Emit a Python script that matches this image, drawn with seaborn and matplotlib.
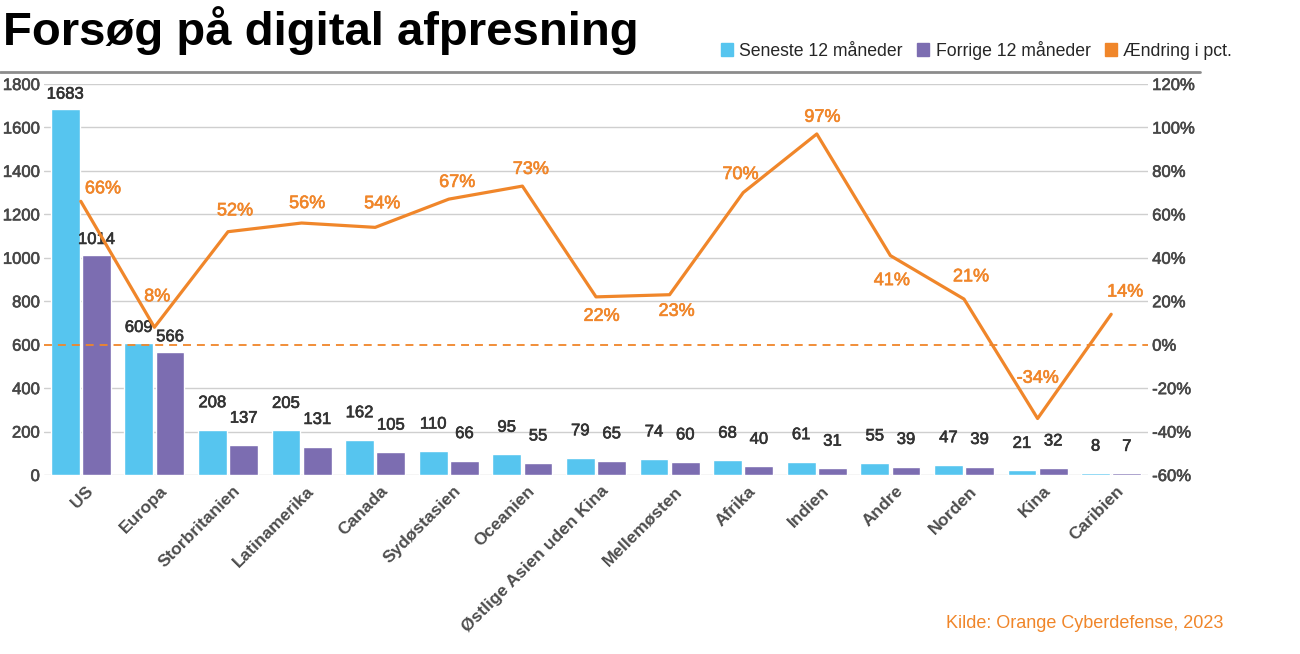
import numpy as np
import pandas as pd
import matplotlib
matplotlib.use('Agg')
import matplotlib.pyplot as plt
import matplotlib.transforms as mtransforms
import matplotlib.patheffects as pe
from matplotlib.lines import Line2D
from matplotlib.patches import Patch
import seaborn as sns

regions = ['US', 'Europa', 'Storbritanien', 'Latinamerika', 'Canada', 'Sydøstasien',
           'Oceanien', 'Østlige Asien uden Kina', 'Mellemøsten', 'Afrika', 'Indien',
           'Andre', 'Norden', 'Kina', 'Caribien']
latest = [1683, 609, 208, 205, 162, 110, 95, 79, 74, 68, 61, 55, 47, 21, 8]
previous = [1014, 566, 137, 131, 105, 66, 55, 65, 60, 40, 31, 39, 39, 32, 7]
change = [66, 8, 52, 56, 54, 67, 73, 22, 23, 70, 97, 41, 21, -34, 14]

series_names = ['Seneste 12 måneder', 'Forrige 12 måneder', 'Ændring i pct.']
left_ticks = list(range(0, 1801, 200))
right_ticks = list(range(-60, 121, 20))

# label offsets for the percentage labels (points)
pct_offsets = [(16, 9), (2, 22), (5, 15), (4, 14), (5, 17), (6, 12), (6, 12), (4, -14),
               (5, -12), (-2, 13), (4, 12), (1, -18), (5, 16), (0, 29), (10, 16)]

blue = '#56C5EF'
purple = '#7C6DB1'
orange = '#F0862A'
grey_txt = '#474747'


def medium(color):
    # thicken regular glyphs a little, close to a medium weight
    return [pe.withStroke(linewidth=0.45, foreground=color)]


sns.set_theme(style='white')
plt.rcParams['font.family'] = ['Liberation Sans', 'DejaVu Sans']

df = pd.DataFrame({
    'region': regions * 2,
    'value': latest + previous,
    'period': [series_names[0]] * len(regions) + [series_names[1]] * len(regions),
})

fig = plt.figure(figsize=(13, 6.54), dpi=100)
ax = fig.add_axes([44 / 1300, 1 - 475 / 654, 1104 / 1300, 391 / 654])

sns.barplot(data=df, x='region', y='value', hue='period', ax=ax,
            palette={series_names[0]: blue, series_names[1]: purple},
            width=0.85, gap=0.08, legend=False, saturation=1)

ax.set_ylim(0, 1800)
ax.set_yticks(left_ticks)
ax.set_xlabel('')
ax.set_ylabel('')
ax.yaxis.grid(True, color='#cfcfcf', lw=1)
ax.set_axisbelow(True)
ax.get_ygridlines()[3].set_visible(False)
for s in ax.spines.values():
    s.set_visible(False)
ax.tick_params(axis='y', length=0, pad=3, labelsize=12, labelcolor=grey_txt)
ax.tick_params(axis='x', length=0, pad=6)
for lab in ax.get_yticklabels():
    lab.set_path_effects(medium(grey_txt))
ax.set_xticks(range(len(regions)))
ax.set_xticklabels(regions, rotation=45, ha='right', va='top', rotation_mode='anchor',
                   fontsize=12.5, fontweight='bold', color='#4d4d4d')
shift = mtransforms.ScaledTranslation(5 / 100, 0, fig.dpi_scale_trans)
for lab in ax.get_xticklabels():
    lab.set_transform(lab.get_transform() + shift)

# value labels above bars
for cont in ax.containers:
    for bar in cont:
        h = bar.get_height()
        dy = 11 if h > 500 else 19.5
        ax.annotate(f'{h:.0f}', (bar.get_x() + bar.get_width() / 2, h),
                    xytext=(0, dy), textcoords='offset points',
                    ha='center', va='center', fontsize=12, color='#333333',
                    path_effects=medium('#333333'))

# percentage change on the right axis
ax2 = ax.twinx()
sns.lineplot(x=np.arange(len(regions)), y=change, ax=ax2, color=orange, lw=2.3)
ax2.axhline(0, color=orange, lw=1.3, dashes=(4.4, 3.3))
ax2.set_ylim(-60, 120)
ax2.set_yticks(right_ticks)
ax2.set_yticklabels([f'{t}%' for t in right_ticks])
ax2.tick_params(axis='y', length=0, pad=3, labelsize=12, labelcolor=grey_txt)
for lab in ax2.get_yticklabels():
    lab.set_path_effects(medium(grey_txt))
for s in ax2.spines.values():
    s.set_visible(False)
for i, (p, off) in enumerate(zip(change, pct_offsets)):
    ax2.annotate(f'{p}%', (i, p), xytext=off, textcoords='offset points',
                 ha='center', va='center', fontsize=13, color=orange,
                 path_effects=medium(orange))
ax.set_xlim(-0.5, len(regions) - 0.5)

# title, rule, legend, source
fig.text(3 / 1300, 1 - 45 / 654, 'Forsøg på digital afpresning', fontsize=34,
         fontweight='bold', color='black', va='baseline', ha='left')
fig.add_artist(Line2D([0, 1200 / 1300], [1 - 72 / 654] * 2, color='#8c8c8c', lw=2,
                      transform=fig.transFigure))
handles = [Patch(color=c, label=n) for c, n in zip([blue, purple, orange], series_names)]
fig.legend(handles=handles, loc='center right', bbox_to_anchor=(1232 / 1300, 1 - 50 / 654),
           ncol=3, frameon=False, fontsize=12.7, handlelength=0.7, handleheight=0.7,
           handletextpad=0.35, columnspacing=0.8, borderpad=0, borderaxespad=0)
fig.text(1223 / 1300, 1 - 624 / 654, 'Kilde: Orange Cyberdefense, 2023', fontsize=13,
         color=orange, ha='right', va='center')

fig.savefig('out.png', dpi=100)
